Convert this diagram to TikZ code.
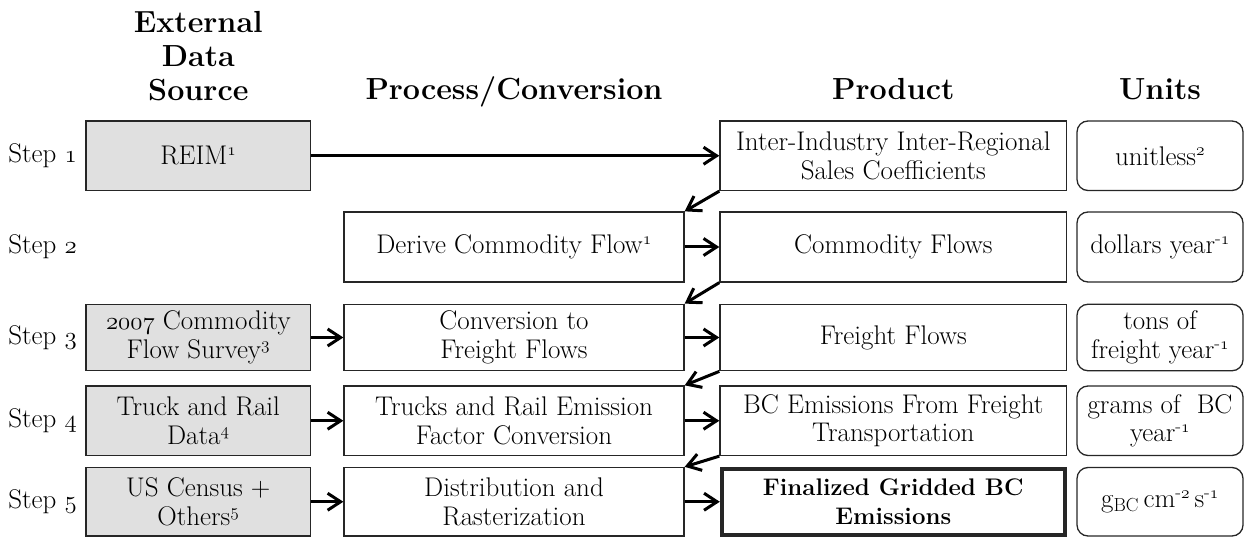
\documentclass[tikz,border=0pt]{standalone}
\usetikzlibrary{arrows.meta}
% old-style figures from the math italic font
\newcommand\osf[1]{{\usefont{OML}{cmm}{m}{it}#1}}
\newcommand\upnote[1]{\textsuperscript{#1}}
\definecolor{srcgray}{HTML}{E0E0E0}
\begin{document}
\begin{tikzpicture}[x=1pt,y=-1pt,
  txt/.style={font=\fontsize{27}{28.5}\selectfont, text=black},
  head/.style={font=\fontsize{30.5}{34}\selectfont\bfseries, text=black, inner sep=0pt},
  cell/.style={txt, draw=black!85, line width=1.3pt, align=center, inner sep=0pt},
  src/.style={cell, fill=srcgray},
  proc/.style={cell},
  prod/.style={cell},
  unit/.style={cell, rounded corners=11pt},
  final/.style={cell, line width=4pt, font=\fontsize{24}{28.5}\selectfont\bfseries},
  col1/.style={minimum width=224.7pt},
  col2/.style={minimum width=340pt},
  col3/.style={minimum width=346.7pt},
  col4/.style={minimum width=166pt},
  row1/.style={minimum height=69.5pt},
  row2/.style={minimum height=70pt},
  row3/.style={minimum height=66.5pt},
  row4/.style={minimum height=69.5pt},
  row5/.style={minimum height=68.5pt},
  steplbl/.style={txt, anchor=east, inner sep=0pt},
  flow/.style={-{Straight Barb[length=13pt,width=17pt,line join=miter]}, line width=3pt, black}
]
\useasboundingbox (0,0) rectangle (1244,537);

% column headings
\node[head, anchor=north, align=center] (hsrc) at (198.3,11) {External\\Data\\Source};
\node[head, anchor=base] (hproc) at (514,100) {Process/Conversion};
\node[head, anchor=base] (hprod) at (893.3,100) {Product};
\node[head, anchor=base] (hunit) at (1160,100) {Units};

% step labels
\node[steplbl] (s1) at (77,155.75) {Step \osf{1}};
\node[steplbl] (s2) at (77,247) {Step \osf{2}};
\node[steplbl] (s3) at (77,337.5) {Step \osf{3}};
\node[steplbl] (s4) at (77,420.75) {Step \osf{4}};
\node[steplbl] (s5) at (77,501.75) {Step \osf{5}};

% external data sources
\node[src, col1, row1] (src1) at (198.3,155.75) {REIM\upnote{\osf{1}}};
\node[src, col1, row3] (src3) at (198.3,337.5) {\osf{2007} Commodity\\Flow Survey\upnote{\osf{3}}};
\node[src, col1, row4] (src4) at (198.3,420.75) {Truck and Rail\\Data\upnote{\osf{4}}};
\node[src, col1, row5] (src5) at (198.3,501.75) {US Census +\\Others\upnote{\osf{5}}};

% processes
\node[proc, col2, row2] (proc2) at (514,247) {Derive Commodity Flow\upnote{\osf{1}}};
\node[proc, col2, row3] (proc3) at (514,337.5) {Conversion to\\Freight Flows};
\node[proc, col2, row4] (proc4) at (514,420.75) {Trucks and Rail Emission\\Factor Conversion};
\node[proc, col2, row5] (proc5) at (514,501.75) {Distribution and\\Rasterization};

% products
\node[prod, col3, row1] (prod1) at (893.3,155.75) {Inter-Industry Inter-Regional\\Sales Coefficients};
\node[prod, col3, row2] (prod2) at (893.3,247) {Commodity Flows};
\node[prod, col3, row3] (prod3) at (893.3,337.5) {Freight Flows};
\node[prod, col3, row4] (prod4) at (893.3,420.75) {BC Emissions From Freight\\Transportation};
\node[final, col3, row5, minimum width=343pt, minimum height=65.5pt] (prod5) at (893.3,501.75) {Finalized Gridded BC\\Emissions};

% units
\node[unit, col4, row1] (unit1) at (1160,155.75) {unitless\upnote{\osf{2}}};
\node[unit, col4, row2] (unit2) at (1160,247) {dollars year\upnote{-\osf{1}}};
\node[unit, col4, row3] (unit3) at (1160,337.5) {tons of\\freight year\upnote{-\osf{1}}};
\node[unit, col4, row4] (unit4) at (1160,420.75) {grams of~ BC\\year\upnote{-\osf{1}}};
\node[unit, col4, row5] (unit5) at (1160,501.75) {g\textsubscript{BC}\,cm\upnote{-\osf{2}}\,s\upnote{-\osf{1}}};

% sources feeding processes / products
\draw[flow] (src1.east) -- (prod1.west);
\draw[flow] (src3.east) -- (proc3.west);
\draw[flow] (src4.east) -- (proc4.west);
\draw[flow] (src5.east) -- (proc5.west);

% processes producing products
\draw[flow] (proc2.east) -- (prod2.west);
\draw[flow] (proc3.east) -- (prod3.west);
\draw[flow] (proc4.east) -- (prod4.west);
\draw[flow] (proc5.east) -- (prod5.west);

% each product feeds the next step
\draw[flow] (prod1.south west) -- (proc2.north east);
\draw[flow] (prod2.south west) -- (proc3.north east);
\draw[flow] (prod3.south west) -- (proc4.north east);
\draw[flow] (prod4.south west) -- (proc5.north east);
\end{tikzpicture}
\end{document}
